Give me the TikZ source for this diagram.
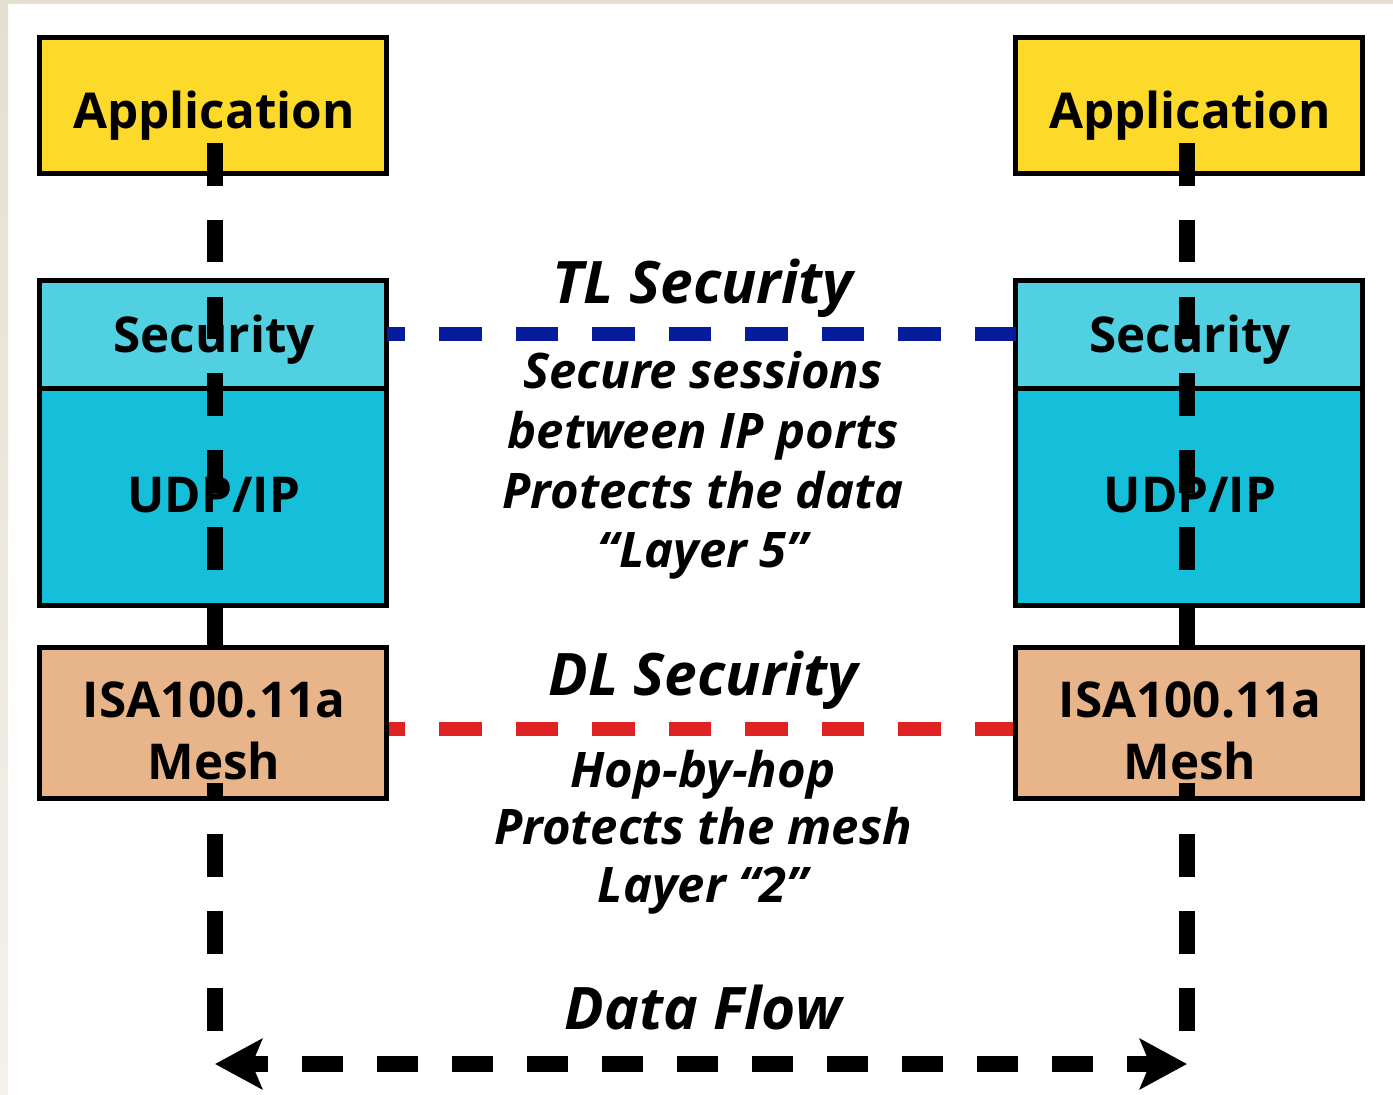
\documentclass[tikz,border=0pt]{standalone}
\usepackage{fontspec}
\setmainfont{Open Sans}
\usetikzlibrary{arrows.meta,calc}

\definecolor{appyellow}{HTML}{FDDA29}
\definecolor{seccyan}{HTML}{50D0E1}
\definecolor{udpcyan}{HTML}{16BFD9}
\definecolor{meshpeach}{HTML}{E8B48A}
\definecolor{tlblue}{HTML}{061C9C}
\definecolor{dlred}{HTML}{E02222}
\definecolor{frametop}{HTML}{E4DFD0}
\definecolor{framebot}{HTML}{F3F1EA}

\tikzset{
  layerbox/.style={draw=black, line width=2.5pt, rectangle, inner sep=0pt, outer sep=0pt,
    minimum width=173.5pt},
  boxlabel/.style={font=\fontsize{24.7}{28}\selectfont\bfseries, inner sep=0pt, anchor=base},
  headlabel/.style={font=\fontsize{29.3}{32}\selectfont\bfseries\itshape, inner sep=0pt, anchor=base},
  bodylabel/.style={font=\fontsize{24.5}{28}\selectfont\bfseries\itshape, inner sep=0pt, anchor=base},
  stackline/.style={line width=8pt, dash pattern=on 21.25pt off 17.15pt},
  linkline/.style={line width=7pt, dash pattern=on 21.25pt off 17pt, dash phase=12pt},
  flowline/.style={line width=8pt, dash pattern=on 20.5pt off 17pt, dash phase=11pt,
    {Stealth[length=23.5pt,width=25pt,inset=5pt]}-{Stealth[length=23.5pt,width=25pt,inset=5pt]}}
}

\begin{document}
\begin{tikzpicture}[x=0.5pt, y=-0.5pt]
\useasboundingbox (0,0) rectangle (1393,1094);
\fill[white] (0,0) rectangle (1393,1094);
\shade[top color=frametop, bottom color=framebot] (0,0) rectangle (8,1094);
\fill[frametop] (0,0) rectangle (1393,4);

% layer stacks: boxes only, labels come last
\node[layerbox, fill=appyellow, minimum height=68pt]    (appL)  at (213,105.5) {};
\node[layerbox, fill=seccyan,   minimum height=53.75pt] (secL)  at (213,334.25) {};
\node[layerbox, fill=udpcyan,   minimum height=108.75pt](udpL)  at (213,496.75) {};

\node[layerbox, fill=appyellow, minimum height=68pt]    (appR)  at (1189,105.5) {};
\node[layerbox, fill=seccyan,   minimum height=53.75pt] (secR)  at (1189,334.25) {};
\node[layerbox, fill=udpcyan,   minimum height=108.75pt](udpR)  at (1189,496.75) {};

% security links between the two stacks
\draw[linkline, tlblue] (secL.east) -- (secR.west);
\draw[linkline, dlred] (386.5,729) coordinate (dlL) -- (1014.5,729) coordinate (dlR);

\node[layerbox, fill=meshpeach, minimum height=75.5pt]  (meshL) at (213,723) {};
\node[layerbox, fill=meshpeach, minimum height=75.5pt]  (meshR) at (1189,723) {};

% vertical data paths through each stack
\coordinate (topL) at (215,143);   \coordinate (midL) at (215,646.5);
\coordinate (topR) at (1187,143);  \coordinate (midR) at (1187,646.5);
\coordinate (lowL) at (215,783);   \coordinate (endL) at (215,1031);
\coordinate (lowR) at (1187,783);  \coordinate (endR) at (1187,1031);
\draw[stackline] (topL) -- (midL);
\draw[stackline] (topR) -- (midR);
\draw[stackline, dash pattern=on 21.5pt off 17pt, dash phase=13pt] (lowL) -- (endL);
\draw[stackline, dash pattern=on 21.5pt off 17pt, dash phase=13pt] (lowR) -- (endR);

% data flow arrow
\coordinate (flowL) at (215,1064);
\coordinate (flowR) at (1187,1064);
\draw[flowline] (flowL) -- (flowR);

% box labels (placed by baseline)
\foreach \s/\x in {L/214, R/1190}{
  \node[boxlabel] (appT\s)   at (\x,128) {Application};
  \node[boxlabel] (secT\s)   at (\x,352) {Security};
  \node[boxlabel] (udpT\s)   at (\x,512) {UDP/IP};
  \node[boxlabel] (meshA\s)  at (\x,717) {ISA100.11a};
  \node[boxlabel] (meshB\s)  at (\x,779) {Mesh};
}

% middle annotations
\node[headlabel] (tl) at (703,303) {TL Security};
\node[bodylabel] (tl1) at (703,388) {Secure sessions};
\node[bodylabel] (tl2) at (703,448) {between IP ports};
\node[bodylabel] (tl3) at (703,508) {Protects the data};
\node[bodylabel] (tl4) at (703,567) {“Layer 5”};
\node[headlabel] (dl) at (703,695) {DL Security};
\node[bodylabel] (dl1) at (703,787) {Hop-by-hop};
\node[bodylabel] (dl2) at (703,844) {Protects the mesh};
\node[bodylabel] (dl3) at (703,902) {Layer “2”};
\node[headlabel] (flow) at (703,1029) {Data Flow};
\end{tikzpicture}
\end{document}
